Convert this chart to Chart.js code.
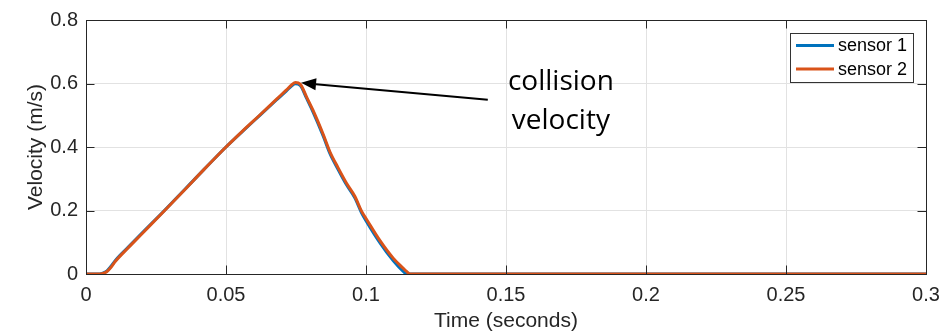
<!DOCTYPE html>
<html>
<head>
<meta charset="utf-8">
<script src="https://cdn.jsdelivr.net/npm/chart.js@4.4.1/dist/chart.umd.min.js"></script>
<style>
  html, body { margin: 0; padding: 0; background: #fff; }
  #wrap { width: 940px; height: 336px; }
</style>
</head>
<body>
<div id="wrap"><canvas id="velChart" width="940" height="336"></canvas></div>
<script>
// time axis (seconds) shared by both sensors
const timeSec = [0, 0.004, 0.006, 0.0075, 0.009, 0.0105, 0.015, 0.02, 0.0281, 0.035,
  0.042, 0.05, 0.056, 0.062, 0.068, 0.0715, 0.0735, 0.0748, 0.0765, 0.0788,
  0.0811, 0.0847, 0.0871, 0.09, 0.0931, 0.096, 0.0984, 0.1, 0.105, 0.1097,
  0.1133, 0.1145, 0.1158, 0.15, 0.2, 0.25, 0.3];

// velocity (m/s)
const sensor1 = [0, 0, 0.003, 0.01, 0.025, 0.043, 0.084, 0.129, 0.201, 0.264,
  0.328, 0.4, 0.45, 0.499, 0.548, 0.576, 0.593, 0.599, 0.594, 0.553,
  0.51, 0.435, 0.38, 0.33, 0.28, 0.24, 0.193, 0.168, 0.098, 0.042,
  0.008, 0, 0, 0, 0, 0, 0];
const sensor2 = [0, 0, 0.002, 0.008, 0.022, 0.04, 0.082, 0.127, 0.2, 0.263,
  0.328, 0.4, 0.451, 0.5, 0.55, 0.579, 0.596, 0.603, 0.598, 0.557,
  0.515, 0.44, 0.385, 0.335, 0.285, 0.245, 0.198, 0.175, 0.105, 0.05,
  0.018, 0.008, 0, 0, 0, 0, 0];

const seriesNames = ["sensor 1", "sensor 2"];
const seriesColors = ["#0072BD", "#D95319"];

const xTicks = [0, 0.05, 0.1, 0.15, 0.2, 0.25, 0.3];
const yTicks = [0, 0.2, 0.4, 0.6, 0.8];

// annotation, in data units
const noteLines = ["collision", "velocity"];
const noteX = 0.1696;
const noteBaselines = [0.58, 0.458];
const arrowTail = [0.1435, 0.549];
const arrowTip = [0.0768, 0.602];

const axisColor = "#262626";
const fontFam = "'Liberation Sans', Arial, Helvetica, sans-serif";

const toPoints = (vals) => timeSec.map((t, i) => ({ x: t, y: vals[i] }));

// MATLAB style box, inward ticks, legend and the annotation arrow
const extras = {
  id: "extras",
  afterDraw(chart) {
    const { ctx, chartArea: a, scales } = chart;
    const xs = scales.x, ys = scales.y;
    ctx.save();
    ctx.strokeStyle = axisColor;
    ctx.lineWidth = 1;
    ctx.beginPath();
    ctx.rect(Math.round(a.left) + 0.5, Math.round(a.top) + 0.5,
      Math.round(a.right - a.left), Math.round(a.bottom - a.top));
    ctx.stroke();

    const tl = 8.5;
    ctx.beginPath();
    xTicks.forEach(v => {
      const px = Math.round(xs.getPixelForValue(v)) + 0.5;
      ctx.moveTo(px, a.bottom); ctx.lineTo(px, a.bottom - tl);
      ctx.moveTo(px, a.top); ctx.lineTo(px, a.top + tl);
    });
    yTicks.forEach(v => {
      const py = Math.round(ys.getPixelForValue(v)) + 0.5;
      ctx.moveTo(a.left, py); ctx.lineTo(a.left + tl, py);
      ctx.moveTo(a.right, py); ctx.lineTo(a.right - tl, py);
    });
    ctx.stroke();

    // legend box
    const bw = 123, bh = 49;
    const bx = a.right - 13 - bw, by = a.top + 13;
    ctx.fillStyle = "#fff";
    ctx.fillRect(bx, by, bw, bh);
    ctx.strokeStyle = "#333";
    ctx.strokeRect(Math.round(bx) + 0.5, Math.round(by) + 0.5, bw, bh);
    ctx.font = "18px " + fontFam;
    ctx.textBaseline = "middle";
    ctx.textAlign = "left";
    chart.data.datasets.forEach((ds, i) => {
      const ly = by + 12.5 + i * 23.5;
      ctx.strokeStyle = ds.borderColor;
      ctx.lineWidth = 3;
      ctx.beginPath();
      ctx.moveTo(bx + 6, ly); ctx.lineTo(bx + 44, ly);
      ctx.stroke();
      ctx.fillStyle = "#000";
      ctx.fillText(ds.label, bx + 48, ly + 1);
    });

    // arrow
    const x0 = xs.getPixelForValue(arrowTail[0]), y0 = ys.getPixelForValue(arrowTail[1]);
    const x1 = xs.getPixelForValue(arrowTip[0]), y1 = ys.getPixelForValue(arrowTip[1]);
    const ang = Math.atan2(y1 - y0, x1 - x0);
    const head = 15, half = 6;
    const hx = x1 - head * Math.cos(ang), hy = y1 - head * Math.sin(ang);
    ctx.strokeStyle = "#000";
    ctx.lineWidth = 2;
    ctx.beginPath();
    ctx.moveTo(x0, y0); ctx.lineTo(hx, hy);
    ctx.stroke();
    ctx.fillStyle = "#000";
    ctx.beginPath();
    ctx.moveTo(x1, y1);
    ctx.lineTo(hx + half * Math.sin(ang), hy - half * Math.cos(ang));
    ctx.lineTo(hx - half * Math.sin(ang), hy + half * Math.cos(ang));
    ctx.closePath();
    ctx.fill();

    // annotation text
    ctx.font = "28px 'Open Sans', 'Noto Sans', sans-serif";
    ctx.textAlign = "center";
    ctx.textBaseline = "alphabetic";
    noteLines.forEach((s, i) => {
      ctx.fillText(s, xs.getPixelForValue(noteX), ys.getPixelForValue(noteBaselines[i]));
    });
    ctx.restore();
  }
};

new Chart(document.getElementById("velChart"), {
  type: "line",
  data: {
    datasets: [sensor1, sensor2].map((vals, i) => ({
      label: seriesNames[i],
      data: toPoints(vals),
      borderColor: seriesColors[i],
      backgroundColor: seriesColors[i],
      borderWidth: 3,
      pointRadius: 0,
      fill: false,
      cubicInterpolationMode: "monotone",
      order: 1 - i
    }))
  },
  options: {
    responsive: false,
    animation: false,
    layout: { padding: { top: 19, right: 14, left: 0, bottom: 0 } },
    plugins: { legend: { display: false }, tooltip: { enabled: false } },
    scales: {
      x: {
        type: "linear",
        min: 0, max: 0.3,
        afterBuildTicks: (s) => { s.ticks = xTicks.map(v => ({ value: v })); },
        afterFit: (s) => { s.height = 62; s.paddingLeft = 0; s.paddingRight = 0; },
        ticks: {
          color: axisColor,
          font: { family: fontFam, size: 20 },
          padding: 9,
          maxRotation: 0,
          callback: (v) => String(+v.toFixed(2))
        },
        grid: { color: "#e2e2e2", drawTicks: false },
        border: { color: axisColor },
        title: {
          display: true,
          text: "Time (seconds)",
          color: axisColor,
          font: { family: fontFam, size: 21 },
          padding: { top: 0, bottom: 2 }
        }
      },
      y: {
        min: 0, max: 0.8,
        afterBuildTicks: (s) => { s.ticks = yTicks.map(v => ({ value: v })); },
        afterFit: (s) => { s.width = 86; },
        ticks: {
          color: axisColor,
          font: { family: fontFam, size: 20 },
          padding: 8,
          callback: (v) => String(+v.toFixed(1))
        },
        grid: { color: "#e2e2e2", drawTicks: false },
        border: { color: axisColor },
        title: {
          display: true,
          text: "Velocity (m/s)",
          color: axisColor,
          font: { family: fontFam, size: 21 },
          padding: { top: 24, bottom: 0 }
        }
      }
    }
  },
  plugins: [extras]
});
</script>
</body>
</html>
